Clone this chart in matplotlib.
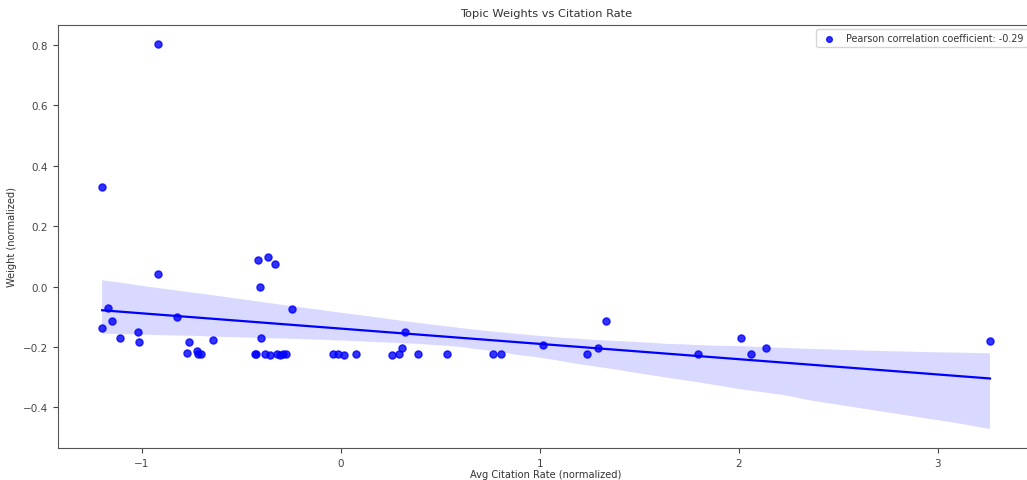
import matplotlib
matplotlib.use("Agg")
import matplotlib.pyplot as plt
import numpy as np
import seaborn as sns

# normalized average citation rate per topic
citation_rate = [
    -0.916, -1.199, -0.417, -0.363, -0.328, -0.407, -0.916, -1.169, -0.824, -0.246,
    -1.199, -1.151, -1.111, -1.018, -1.013, -0.764, -0.774, -0.720, -0.715, -0.704,
    -0.642, -0.402, -0.432, -0.426, -0.378, -0.353, -0.322, -0.307, -0.291, -0.273,
    -0.038, -0.012, 0.017, 0.075, 0.256, 0.295, 0.310, 0.322, 0.389, 0.536,
    0.766, 0.804, 1.018, 1.240, 1.295, 1.332, 1.797, 2.010, 2.064, 2.137,
    3.263,
]

# normalized topic weight
weight = [
    0.804, 0.329, 0.087, 0.099, 0.074, 0.000, 0.042, -0.072, -0.102, -0.075,
    -0.137, -0.114, -0.169, -0.149, -0.183, -0.183, -0.221, -0.212, -0.225, -0.225,
    -0.176, -0.169, -0.223, -0.223, -0.225, -0.227, -0.222, -0.226, -0.224, -0.223,
    -0.225, -0.225, -0.227, -0.225, -0.227, -0.225, -0.205, -0.149, -0.225, -0.223,
    -0.225, -0.225, -0.193, -0.225, -0.203, -0.114, -0.225, -0.169, -0.225, -0.203,
    -0.179,
]

pearson_label = "Pearson correlation coefficient: -0.29"

plt.rcParams["font.size"] = 7.5
plt.rcParams["text.color"] = "#333333"
plt.rcParams["axes.labelcolor"] = "#333333"
plt.rcParams["xtick.color"] = "#444444"
plt.rcParams["ytick.color"] = "#444444"
plt.rcParams["axes.edgecolor"] = "#555555"

fig = plt.figure(figsize=(10.27, 4.81), dpi=100)
ax = fig.add_axes([0.0562, 0.0659, 0.951, 0.8807])

sns.regplot(x=np.array(citation_rate), y=np.array(weight), ax=ax, color="blue",
            seed=3, label=pearson_label,
            scatter_kws={"s": 26, "alpha": 0.8},
            line_kws={"linewidth": 1.6})

ax.set_title("Topic Weights vs Citation Rate", fontsize=8.2)
ax.set_xlabel("Avg Citation Rate (normalized)", labelpad=1, fontsize=7.1)
ax.set_ylabel("Weight (normalized)", fontsize=7.1)

# only the scatter handle goes in the legend
handles, labels = ax.get_legend_handles_labels()
ax.legend(handles[:1], labels[:1], loc="upper right", bbox_to_anchor=(0.998, 1.0),
          fontsize=6.9, markerscale=0.8)

fig.savefig("out.png", dpi=100)
